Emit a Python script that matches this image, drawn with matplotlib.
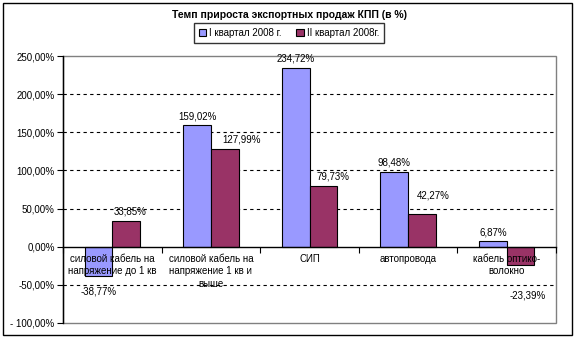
import numpy as np
import matplotlib
matplotlib.use('Agg')
import matplotlib.pyplot as plt
from matplotlib.patches import Rectangle

plt.rcParams['font.family'] = ['Liberation Sans', 'DejaVu Sans']
plt.rcParams['font.size'] = 7

# data
categories = ['силовой кабель на\nнапряжение до 1 кв',
              'силовой кабель на\nнапряжение 1 кв и\nвыше',
              'СИП',
              'автопровода',
              'кабель оптико-\nволокно']
q1 = [-38.77, 159.02, 234.72, 98.48, 6.87]
q2 = [33.85, 127.99, 79.73, 42.27, -23.39]
series_names = ['I квартал 2008 г.', 'II квартал 2008г.']
title = 'Темп прироста экспортных продаж КПП (в %)'
yticks = [-100, -50, 0, 50, 100, 150, 200, 250]

c1 = '#9999FF'
c2 = '#993366'

W, H = 581, 341
fig = plt.figure(figsize=(W / 100, H / 100), dpi=100)
fig.patches.append(Rectangle((3 / W, 6 / H), 569 / W, 332 / H, transform=fig.transFigure,
                             fill=False, edgecolor='black', linewidth=1.0))

ax = fig.add_axes([63 / W, (H - 323) / H, 493 / W, 267 / H])
x = np.arange(len(categories))
bw = 0.28
b1 = ax.bar(x - bw / 2, q1, bw, color=c1, edgecolor='black', linewidth=0.8, zorder=2, label=series_names[0])
b2 = ax.bar(x + bw / 2, q2, bw, color=c2, edgecolor='black', linewidth=0.8, zorder=2, label=series_names[1])

ax.set_xlim(-0.5, len(categories) - 0.5)
ax.set_ylim(yticks[0], yticks[-1])
ax.set_yticks(yticks)
ax.set_yticklabels(['- %d,00%%' % -v if v == -100 else '%d,00%%' % v for v in yticks])
ax.tick_params(axis='y', direction='out', length=4, width=0.8, pad=2)

# dashed grid (skip the zero line and frame edges)
for v in yticks:
    if v not in (0, yticks[0], yticks[-1]):
        ax.axhline(v, color='black', linewidth=0.8, linestyle=(0, (3, 3)), zorder=1)

# category axis at zero, labels drawn over the bars
for s in ['top', 'right']:
    ax.spines[s].set_visible(False)
ax.spines['bottom'].set_position(('data', 0))
ax.spines['bottom'].set_linewidth(1.0)
ax.spines['bottom'].set_zorder(4)
ax.spines['left'].set_linewidth(1.0)
ax.set_xticks(x)
ax.set_xticklabels(categories, linespacing=1.35)
ax.set_xticks(np.arange(len(categories) + 1) - 0.5, minor=True)
ax.tick_params(axis='x', which='major', length=0, pad=5)
ax.tick_params(axis='x', which='minor', length=4, width=0.8, direction='out')
ax.xaxis.set_zorder(3)
ax.add_patch(Rectangle((0, 0), 1, 1, transform=ax.transAxes, fill=False,
                       edgecolor='#808080', linewidth=1.0, clip_on=False, zorder=0))

# value labels (a few nudged sideways / up-down)
dx2 = [3, 12, 7, 8, 5]
dy2 = [3, 3, 3, 10, -19]
for i, (v1, v2) in enumerate(zip(q1, q2)):
    for bars, v, dx, dy in ((b1, v1, 0, 3 if v1 >= 0 else -7), (b2, v2, dx2[i], dy2[i])):
        xc = bars[i].get_x() + bars[i].get_width() / 2
        va = 'bottom' if v >= 0 else 'top'
        ax.annotate(('%.2f%%' % v).replace('.', ','), (xc, v), xytext=(dx, dy),
                    textcoords='offset points', ha='center', va=va, fontsize=7, zorder=5)

fig.text(290 / W, 1 - 15 / H, title, ha='center', va='center', fontsize=7.5, fontweight='bold')
leg = fig.legend(handles=[b1, b2], loc='center', bbox_to_anchor=(289 / W, 1 - 33 / H), ncol=2,
                 fontsize=7, frameon=True, fancybox=False, handlelength=0.8, handleheight=0.8,
                 handletextpad=0.3, columnspacing=1.5, borderpad=0.5)
leg.get_frame().set_edgecolor('black')
leg.get_frame().set_linewidth(1.0)

fig.savefig('out.png', dpi=100)
